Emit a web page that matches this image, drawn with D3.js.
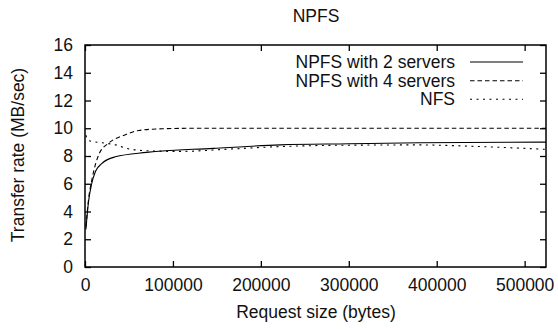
<!DOCTYPE html>
<html><head><meta charset="utf-8">
<script src="https://cdn.jsdelivr.net/npm/d3@7"></script>
<style>body{margin:0;background:#fff}svg{display:block}text{font-family:"Liberation Sans",Arial,Helvetica,sans-serif}</style>
</head><body><svg id="c" width="558" height="329"></svg>
<script>
const title = "NPFS";
const xLabel = "Request size (bytes)";
const yLabel = "Transfer rate (MB/sec)";
const xTicks = [0, 100000, 200000, 300000, 400000, 500000];
const yTicks = [0, 2, 4, 6, 8, 10, 12, 14, 16];
const seriesNames = ["NPFS with 2 servers", "NPFS with 4 servers", "NFS"];
const npfs2X = [1024, 4000, 7600, 12000, 19000, 34500, 70000, 146000, 222000, 300000, 380000, 524288];
const npfs2Y = [2.7, 4.7, 6.0, 6.9, 7.45, 7.94, 8.26, 8.55, 8.8, 8.88, 8.96, 9.0];
const npfs4X = [1024, 4096, 8192, 16384, 27000, 45900, 61200, 87600, 131072, 262144, 393216, 524288];
const npfs4Y = [2.9, 4.9, 6.4, 8.2, 8.93, 9.53, 9.84, 9.96, 10.0, 10.0, 10.0, 10.0];
const nfsX = [1024, 2000, 5000, 20000, 35000, 47500, 70000, 108000, 165000, 222000, 300000, 380000, 440000, 524288];
const nfsY = [9.5, 9.3, 9.1, 8.95, 8.8, 8.55, 8.38, 8.33, 8.5, 8.68, 8.78, 8.8, 8.7, 8.48];

const svg = d3.select("#c");
const L = 85, R = 546, T = 45, B = 267;
const x = d3.scaleLinear().domain([0, 524288]).range([L, R]);
const y = d3.scaleLinear().domain([0, 16]).range([B, T]);
const fs = 17.5;

const tl = 6;
const g = svg.append("g");
g.append("g").attr("transform", `translate(0,${B})`)
  .call(d3.axisBottom(x).tickValues(xTicks).tickSize(-tl).tickPadding(12).tickFormat(d3.format("d")))
  .call(a => { a.select(".domain").remove(); a.selectAll("text").attr("font-size", fs).attr("font-family", null).attr("dy", "0.71em"); });
g.append("g").attr("transform", `translate(0,${T})`)
  .call(d3.axisTop(x).tickValues(xTicks).tickSize(-tl).tickFormat(""))
  .call(a => a.select(".domain").remove());
g.append("g").attr("transform", `translate(${L},0)`)
  .call(d3.axisLeft(y).tickValues(yTicks).tickSize(-tl).tickPadding(12))
  .call(a => { a.select(".domain").remove(); a.selectAll("text").attr("font-size", fs).attr("font-family", null); });
g.append("g").attr("transform", `translate(${R},0)`)
  .call(d3.axisRight(y).tickValues(yTicks).tickSize(-tl).tickFormat(""))
  .call(a => a.select(".domain").remove());
g.selectAll(".tick line").attr("stroke", "#000").attr("stroke-width", 1.3);
g.selectAll(".tick text").attr("fill", "#111");

const line = d3.line().x(d => x(d[0])).y(d => y(d[1])).curve(d3.curveMonotoneX);
const series = [
  { name: seriesNames[0], xs: npfs2X, ys: npfs2Y, dash: null },
  { name: seriesNames[1], xs: npfs4X, ys: npfs4Y, dash: "4.5,3" },
  { name: seriesNames[2], xs: nfsX, ys: nfsY, dash: "2,4.5" }
];
svg.append("clipPath").attr("id", "cp").append("rect").attr("x", L).attr("y", T).attr("width", R - L).attr("height", B - T);
series.forEach(s => {
  svg.append("path").datum(s.xs.map((v, i) => [v, s.ys[i]]))
    .attr("d", line).attr("fill", "none").attr("stroke", "#000").attr("stroke-width", 1.1)
    .attr("stroke-dasharray", s.dash).attr("clip-path", "url(#cp)");
});

svg.append("rect").attr("x", L).attr("y", T).attr("width", R - L).attr("height", B - T)
  .attr("fill", "none").attr("stroke", "#000").attr("stroke-width", 1.5);

const legY = [62, 80.7, 99.3];
series.forEach((s, i) => {
  svg.append("text").attr("x", 455).attr("y", legY[i]).attr("dy", "0.35em").attr("text-anchor", "end")
    .attr("font-size", fs).attr("fill", "#111").text(s.name);
  svg.append("line").attr("x1", 470).attr("x2", 523).attr("y1", legY[i]).attr("y2", legY[i])
    .attr("stroke", "#000").attr("stroke-width", 1.1).attr("stroke-dasharray", s.dash);
});

svg.append("text").attr("x", 316).attr("y", 22).attr("text-anchor", "middle").attr("font-size", fs).attr("fill", "#111").text(title);
svg.append("text").attr("x", 316).attr("y", 318).attr("text-anchor", "middle").attr("font-size", fs).attr("fill", "#111").text(xLabel);
svg.append("text").attr("transform", "translate(24,155) rotate(-90)").attr("text-anchor", "middle").attr("font-size", fs).attr("fill", "#111").text(yLabel);
</script></body></html>
